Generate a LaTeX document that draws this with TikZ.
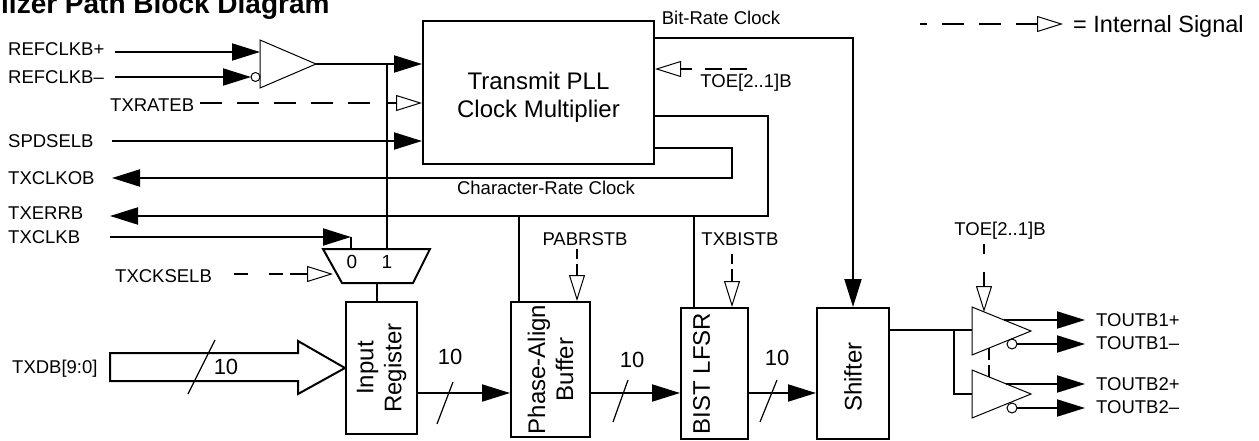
\documentclass[tikz,border=0pt]{standalone}
\usepackage{fontspec}
\setmainfont{Liberation Sans}
\usetikzlibrary{positioning,arrows.meta}

\begin{document}
\begin{tikzpicture}[
    x=1pt, y=-1pt,
    signame/.style={
        inner sep=3pt,
        text height=13.3pt,
        text depth=0pt,
        font=\fontsize{18.5}{22}\selectfont
    },
    block/.style={
        rectangle,
        draw=black,
        line width=2pt,
        inner sep=0pt
    },
    blocktext/.style={
        align=center,
        font=\fontsize{24}{28}\selectfont
    },
    buswidth/.style={
        font=\fontsize{22}{26}\selectfont
    },
    gate/.style={
        draw=black,
        line width=1pt,
        line join=miter
    },
    wire/.style={
        line width=2pt
    },
    arrow/.style={
        wire,
        -{Triangle[length=28pt,width=17pt]}
    },
    internal/.style={
        wire,
        dash pattern=on 22pt off 15pt
    },
    shortdash/.style={
        dash pattern=on 10pt off 5pt
    },
    intip/.style={
        wire,
        -{Triangle[open,length=26pt,width=16pt,line width=1pt]}
    },
    slash/.style={
        line width=1.2pt
    }
]

% Page frame
\useasboundingbox (0,0) rectangle (1259,441);

% Title (cut by the page edge)
\node[anchor=base west, inner sep=0pt, font=\fontsize{28}{32}\selectfont\bfseries] (title) at (1,14) {lizer Path Block Diagram};

% Left edge where the pin wires start
\coordinate (rail) at (112,0);

% Legend
\node[signame, anchor=west, text height=17pt, font=\fontsize{23.5}{28}\selectfont] (legend) at (1070,24.5) {= Internal Signal};
\coordinate (legstart) at (920,24);
\coordinate (legstub) at (1016,24);
\coordinate (legtip) at (1063,24);
\draw[internal, dash phase=15pt] (legstart) -- (legstub);
\draw[intip] (legstub) -- (legtip);

% Transmit PLL
\node[block, minimum width=231pt, minimum height=143pt] (pllbox) at (538.5,92.5) {};
\node[blocktext] at ([yshift=-5pt]pllbox.center) {Transmit PLL\\Clock Multiplier};

% Reference clock buffer
\draw[gate] (260,40) -- (316,64) -- (260,88) -- cycle;
\draw[gate] (255.5,77) circle (4.5);
\coordinate (refinp) at (260,52);
\coordinate (refinn) at (251,77);
\coordinate (refout) at (316,64);
\coordinate (refsplit) at (387,64);

\node[signame, anchor=west] (refclkp) at (5,49) {REFCLKB+};
\node[signame, anchor=west] (refclkn) at (5,77) {REFCLKB–};
\draw[arrow] ([xshift=3pt]rail |- refinp) -- (refinp);
\draw[arrow] ([xshift=3pt]rail |- refinn) -- (refinn);
\draw[arrow] (refout) -- (pllbox.west |- refout);

% Rate and speed inputs
\node[signame, anchor=west] (txrateb) at (107,105) {TXRATEB};
\coordinate (txratestub) at (387,103);
\draw[internal, shorten <=3pt, shorten >=15pt] (txrateb.east |- txratestub) -- (txratestub);
\draw[intip] (txratestub) -- (pllbox.west |- txratestub);

\node[signame, anchor=west] (spdselb) at (5,141) {SPDSELB};
\draw[arrow] (rail |- spdselb.east) -- (pllbox.west |- spdselb.east);

% Data path blocks
\node[block, minimum width=71pt, minimum height=132pt] (inreg) at (381.5,368) {};
\node[blocktext, rotate=90] at (inreg.center) {Input\\Register};

\node[block, minimum width=79pt, minimum height=135pt] (phasebuf) at (550.5,369.5) {};
\node[blocktext, rotate=90] at (phasebuf.center) {Phase-Align\\Buffer};

\node[block, minimum width=67pt, minimum height=131pt] (bistlfsr) at (714.5,373.5) {};
\node[blocktext, rotate=90] at ([xshift=-13pt]bistlfsr.center) {BIST LFSR};

\node[block, minimum width=72pt, minimum height=131pt] (shifter) at (853,373.5) {};
\node[blocktext, rotate=90] at ([yshift=-3.5pt]shifter.center) {Shifter};

% PLL clock outputs
\node[signame] (bitrate) at (721,18) {Bit-Rate Clock};
\coordinate (brcturn) at (853,38);
\draw[arrow] (pllbox.east |- brcturn) -- (brcturn) -- (shifter.north);

\node[signame] (toepll) at (746,81) {TOE[2..1]B};
\coordinate (toestart) at (747,69);
\coordinate (toestub) at (692,69);
\draw[internal, dash pattern=on 17pt off 8pt, shorten >=13pt] (toestart) -- (toestub);
\draw[intip] (toestub) -- (pllbox.east |- toestub);

\node[signame, anchor=west] (txclkob) at (5,178) {TXCLKOB};
\node[signame] (charrate) at (546,188) {Character-Rate Clock};
\coordinate (crcturn) at (732,148);
\draw[arrow] (pllbox.east |- crcturn) -- (crcturn) |- (rail |- txclkob.east);

\node[signame, anchor=west] (txerrb) at (5,213) {TXERRB};
\coordinate (errtap) at (654,116);
\coordinate (errline) at (768,216);
\coordinate (pabtap) at (519,216);
\coordinate (bisttap) at (694,216);
\draw[arrow] (errtap) -| (errline) -- ([xshift=-2pt]rail |- errline);
\draw[wire] (pabtap) -- (pabtap |- phasebuf.north);
\draw[wire] (bisttap) -- (bisttap |- bistlfsr.north);

% Clock select mux
\draw[wire, line join=miter] (323,249) -- (430,249) -- (413,283) -- (342,283) -- cycle;
\node[font=\fontsize{19}{22}\selectfont] (mux0) at (352,262) {0};
\node[font=\fontsize{19}{22}\selectfont] (mux1) at (387,262) {1};
\coordinate (muxin0) at (351,249);
\coordinate (muxin1) at (387,249);
\coordinate (muxsel) at (333,274);
\coordinate (muxout) at (377,283);
\draw[wire] (refsplit) -- (muxin1);
\draw[wire] (muxout) -- (muxout |- inreg.north);

\node[signame, anchor=west] (txclkb) at (5,237) {TXCLKB};
\draw[arrow] ([xshift=-2pt]rail |- txclkb.east) -- (muxin0 |- txclkb.east);
\draw[wire] (muxin0 |- txclkb.east) -- (muxin0);

\node[signame, anchor=west] (txckselb) at (112,276) {TXCKSELB};
\coordinate (selstub) at (290,274);
\draw[internal, dash pattern=on 14pt off 21pt, shorten <=19pt] (txckselb.east |- selstub) -- (selstub);
\draw[intip] (selstub) -- (muxsel);

% Parallel data input
\node[signame, anchor=west] (txdb) at (9,367) {TXDB[9:0]};
\draw[wire, line join=miter] ([xshift=-2pt]rail |- 0,353) -- (298,353) -- (298,341) -- (inreg.west) -- (298,394) -- (298,381) -- ([xshift=-2pt]rail |- 0,381) -- cycle;
\draw[slash] (188,394) -- (215,340);
\node[buswidth] (w0) at (226,367) {10};

% 10-bit bus between blocks
\coordinate (bus) at (0,393);
\draw[arrow] (inreg.east |- bus) -- (phasebuf.west |- bus);
\draw[arrow] (phasebuf.east |- bus) -- (bistlfsr.west |- bus);
\draw[arrow] (bistlfsr.east |- bus) -- (shifter.west |- bus);
\draw[slash] (437,424) -- (453,382);
\draw[slash] (613,422) -- (628,380);
\draw[slash] (760,422) -- (777,380);
\node[buswidth] (w1) at (450,357) {10};
\node[buswidth] (w2) at (632,360) {10};
\node[buswidth] (w3) at (777,358) {10};

% Reset and BIST controls
\node[signame] (pabrstb) at (585,239) {PABRSTB};
\coordinate (pabstub) at (577,272);
\draw[internal, shortdash] (pabrstb.south -| pabstub) -- (pabstub);
\draw[intip] (pabstub) -- (pabstub |- phasebuf.north);

\node[signame] (txbistb) at (740,239) {TXBISTB};
\coordinate (biststub) at (732,278);
\draw[internal, shortdash, shorten <=5pt] (txbistb.south -| biststub) -- (biststub);
\draw[intip] (biststub) -- (biststub |- bistlfsr.north);

% Output drivers
\draw[gate] (972,307) -- (1031,331) -- (972,355) -- cycle;
\draw[gate] (1012,344) circle (5);
\draw[gate] (972,370) -- (1031,394) -- (972,418) -- cycle;
\draw[gate] (1012,408) circle (5);
\coordinate (drvsplit) at (954,330);
\coordinate (drv1in) at (972,330);
\coordinate (drv2in) at (972,394);
\coordinate (drv1p) at (1004,320);
\coordinate (drv1n) at (1017,344);
\coordinate (drv2p) at (1006,384);
\coordinate (drv2n) at (1017,408);
\coordinate (drv1en) at (984,312);
\coordinate (drv1off) at (989,348);
\coordinate (drv2en) at (989,377);

\draw[wire] (shifter.east |- drv1in) -- (drv1in);
\draw[wire] (drvsplit) |- (drv2in);

\node[signame] (toeout) at (1000,229) {TOE[2..1]B};
\coordinate (toestub2) at (984,282);
\draw[internal, dash pattern=on 10pt off 18pt, shorten <=5pt] (toeout.south -| toestub2) -- (toestub2);
\draw[intip] (toestub2) -- (drv1en);
\draw[internal, dash pattern=on 12pt off 5pt] (drv1off) -- (drv2en);

\node[signame, anchor=west] (toutb1p) at (1093,320) {TOUTB1+};
\node[signame, anchor=west] (toutb1n) at (1093,343) {TOUTB1–};
\node[signame, anchor=west] (toutb2p) at (1093,384) {TOUTB2+};
\node[signame, anchor=west] (toutb2n) at (1093,407) {TOUTB2–};
\draw[arrow, shorten >=8pt] (drv1p) -- (toutb1p.west |- drv1p);
\draw[arrow, shorten >=8pt] (drv1n) -- (toutb1n.west |- drv1n);
\draw[arrow, shorten >=8pt] (drv2p) -- (toutb2p.west |- drv2p);
\draw[arrow, shorten >=8pt] (drv2n) -- (toutb2n.west |- drv2n);

\end{tikzpicture}
\end{document}
